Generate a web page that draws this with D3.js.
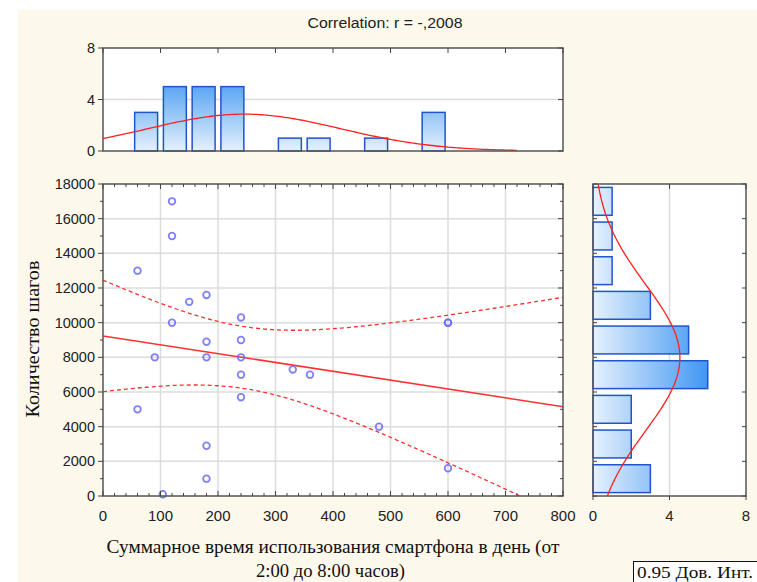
<!DOCTYPE html>
<html>
<head>
  <meta charset="utf-8">
  <script src="https://d3js.org/d3.v7.min.js"></script>
  <style>
    body { margin: 0; background: #fff; }
    text { font-family: "Liberation Sans", Arial, sans-serif; fill: #222; }
    .serif { font-family: "Liberation Serif", "Times New Roman", serif; fill: #111; }
  </style>
</head>
<body>
<script>
  "use strict";

  // scatter: total smartphone time (min) vs steps
  var times = [60, 60, 90, 104, 120, 120, 120, 150, 180, 180, 180, 180, 180,
               240, 240, 240, 240, 240, 330, 360, 480, 600, 600, 600];
  var steps = [13000, 5000, 8000, 100, 17000, 15000, 10000, 11200, 11600, 8900, 8000, 2900, 1000,
               10300, 9000, 8000, 7000, 5700, 7300, 7000, 4000, 10000, 10000, 1600];

  // top histogram (time), bins of 50
  var timeBinStart = [50, 100, 150, 200, 300, 350, 450, 550];
  var timeCounts   = [3, 5, 5, 5, 1, 1, 1, 3];
  // right histogram (steps), bins of 2000
  var stepBinStart = [0, 2000, 4000, 6000, 8000, 10000, 12000, 14000, 16000];
  var stepCounts   = [3, 2, 2, 6, 5, 3, 1, 1, 1];

  var xTicks = [0, 100, 200, 300, 400, 500, 600, 700, 800];
  var yTicks = [0, 2000, 4000, 6000, 8000, 10000, 12000, 14000, 16000, 18000];
  var countTicks = [0, 4, 8];

  var title = "Correlation: r = -,2008";
  var xTitle1 = "Суммарное время использования смартфона в день (от";
  var xTitle2 = "2:00 до 8:00 часов)";
  var yTitle = "Количество шагов";
  var legendText = "0.95 Дов. Инт.";

  var W = 757, H = 582;
  var svg = d3.select("body").append("svg").attr("width", W).attr("height", H);

  svg.append("rect").attr("x", 18).attr("y", 10).attr("width", W - 18).attr("height", H - 10)
    .attr("fill", "#fdf8ec");

  var mainP = {l: 103, r: 563, t: 184, b: 496};
  var topP = {l: 103, r: 563, t: 48, b: 151};
  var sideP = {l: 593, r: 746, t: 184, b: 496};

  var x = d3.scaleLinear().domain([0, 800]).range([mainP.l, mainP.r]);
  var y = d3.scaleLinear().domain([0, 18000]).range([mainP.b, mainP.t]);
  var yTop = d3.scaleLinear().domain([0, 8]).range([topP.b, topP.t]);
  var xSide = d3.scaleLinear().domain([0, 8]).range([sideP.l, sideP.r]);

  var defs = svg.append("defs");
  var gv = defs.append("linearGradient").attr("id", "gv")
    .attr("gradientUnits", "userSpaceOnUse")
    .attr("x1", 0).attr("x2", 0).attr("y1", yTop(0)).attr("y2", yTop(6));
  gv.append("stop").attr("offset", 0).attr("stop-color", "#e6f1fd");
  gv.append("stop").attr("offset", 1).attr("stop-color", "#3f97f2");
  var gh = defs.append("linearGradient").attr("id", "gh")
    .attr("gradientUnits", "userSpaceOnUse")
    .attr("y1", 0).attr("y2", 0).attr("x1", xSide(0)).attr("x2", xSide(6.2));
  gh.append("stop").attr("offset", 0).attr("stop-color", "#e6f1fd");
  gh.append("stop").attr("offset", 1).attr("stop-color", "#3a94f2");
  defs.append("clipPath").attr("id", "clipMain").append("rect")
    .attr("x", mainP.l).attr("y", mainP.t).attr("width", mainP.r - mainP.l).attr("height", mainP.b - mainP.t);

  // plot backgrounds
  [mainP, topP, sideP].forEach(function (p) {
    svg.append("rect").attr("x", p.l).attr("y", p.t).attr("width", p.r - p.l).attr("height", p.b - p.t)
      .attr("fill", "#fff");
  });

  // gridlines
  var grid = svg.append("g").attr("stroke", "#dcdcdc").attr("stroke-width", 1.5);
  xTicks.slice(1, -1).forEach(function (v) {
    grid.append("line").attr("x1", x(v)).attr("x2", x(v)).attr("y1", mainP.t).attr("y2", mainP.b);
  });
  yTicks.slice(1, -1).forEach(function (v) {
    grid.append("line").attr("x1", mainP.l).attr("x2", mainP.r).attr("y1", y(v)).attr("y2", y(v));
  });
  grid.append("line").attr("x1", topP.l).attr("x2", topP.r).attr("y1", yTop(4)).attr("y2", yTop(4));
  grid.append("line").attr("x1", xSide(4)).attr("x2", xSide(4)).attr("y1", sideP.t).attr("y2", sideP.b);

  // top histogram bars
  var bwTop = x(50) - x(0);
  svg.append("g").selectAll("rect").data(timeBinStart).join("rect")
    .attr("x", function (d) { return x(d) + 2.9; })
    .attr("width", bwTop - 5.8)
    .attr("y", function (d, i) { return yTop(timeCounts[i]); })
    .attr("height", function (d, i) { return yTop(0) - yTop(timeCounts[i]); })
    .attr("fill", "url(#gv)").attr("stroke", "#1f55cc").attr("stroke-width", 1.5);

  // side histogram bars
  var bhSide = y(0) - y(2000);
  svg.append("g").selectAll("rect").data(stepBinStart).join("rect")
    .attr("x", xSide(0))
    .attr("y", function (d) { return y(d + 2000) + 3.4; })
    .attr("height", bhSide - 6.8)
    .attr("width", function (d, i) { return xSide(stepCounts[i]) - xSide(0); })
    .attr("fill", "url(#gh)").attr("stroke", "#1f55cc").attr("stroke-width", 1.5);

  // stats
  var n = times.length;
  var mx = d3.mean(times), my = d3.mean(steps);
  var sx = d3.deviation(times), sy = d3.deviation(steps);
  var sxx = d3.sum(times, function (v) { return (v - mx) * (v - mx); });
  var sxy = d3.sum(times, function (v, i) { return (v - mx) * (steps[i] - my); });
  var slope = sxy / sxx, icpt = my - slope * mx;
  var sse = d3.sum(times, function (v, i) { var e = steps[i] - (icpt + slope * v); return e * e; });
  var se = Math.sqrt(sse / (n - 2));
  var tcrit = 2.074;

  function npdf(v, m, s) { return Math.exp(-0.5 * ((v - m) / s) * ((v - m) / s)) / (s * Math.sqrt(2 * Math.PI)); }

  // normal curves
  var topCurve = d3.range(0, 721, 4).map(function (v) { return [x(v), yTop(n * 50 * npdf(v, mx, sx))]; });
  svg.append("path").attr("d", d3.line()(topCurve))
    .attr("fill", "none").attr("stroke", "#ff2020").attr("stroke-width", 1.3);
  var sideCurve = d3.range(0, 18001, 100).map(function (v) { return [xSide(n * 2000 * npdf(v, my, sy)), y(v)]; });
  svg.append("path").attr("d", d3.line()(sideCurve))
    .attr("fill", "none").attr("stroke", "#ff2020").attr("stroke-width", 1.3);

  // regression + confidence band
  var clipG = svg.append("g").attr("clip-path", "url(#clipMain)");
  var xs = d3.range(0, 801, 5);
  function band(sign) {
    return xs.map(function (v) {
      var h = tcrit * se * Math.sqrt(1 / n + (v - mx) * (v - mx) / sxx);
      return [x(v), y(icpt + slope * v + sign * h)];
    });
  }
  clipG.append("path").attr("d", d3.line()(band(1)))
    .attr("fill", "none").attr("stroke", "#ff3030").attr("stroke-width", 1.3).attr("stroke-dasharray", "4,3");
  clipG.append("path").attr("d", d3.line()(band(-1)))
    .attr("fill", "none").attr("stroke", "#ff3030").attr("stroke-width", 1.3).attr("stroke-dasharray", "4,3");
  clipG.append("line").attr("x1", x(0)).attr("x2", x(800))
    .attr("y1", y(icpt)).attr("y2", y(icpt + slope * 800))
    .attr("stroke", "#ff3030").attr("stroke-width", 1.5);

  // points
  svg.append("g").selectAll("circle").data(times).join("circle")
    .attr("cx", function (d) { return x(d); })
    .attr("cy", function (d, i) { return y(steps[i]); })
    .attr("r", 3.3)
    .attr("fill", "none").attr("stroke", "#6a6af8").attr("stroke-width", 1.8).attr("stroke-opacity", 0.85);

  // frames
  [mainP, topP, sideP].forEach(function (p) {
    svg.append("rect").attr("x", p.l).attr("y", p.t).attr("width", p.r - p.l).attr("height", p.b - p.t)
      .attr("fill", "none").attr("stroke", "#555").attr("stroke-width", 1.5);
  });

  // tick marks
  var tk = svg.append("g").attr("stroke", "#444").attr("stroke-width", 1);
  d3.range(0, 801, 20).forEach(function (v) {
    var len = v % 100 === 0 ? 5 : 3;
    tk.append("line").attr("x1", x(v)).attr("x2", x(v)).attr("y1", mainP.t).attr("y2", mainP.t + len);
    tk.append("line").attr("x1", x(v)).attr("x2", x(v)).attr("y1", mainP.b).attr("y2", mainP.b - len);
  });
  d3.range(0, 18001, 1000).forEach(function (v) {
    var len = v % 2000 === 0 ? 5 : 3;
    tk.append("line").attr("x1", mainP.l - len).attr("x2", mainP.l).attr("y1", y(v)).attr("y2", y(v));
    tk.append("line").attr("x1", mainP.r - len).attr("x2", mainP.r).attr("y1", y(v)).attr("y2", y(v));
  });
  xTicks.forEach(function (v) {
    tk.append("line").attr("x1", x(v)).attr("x2", x(v)).attr("y1", topP.t).attr("y2", topP.t + 5);
  });
  countTicks.forEach(function (v) {
    tk.append("line").attr("x1", topP.l - 5).attr("x2", topP.l).attr("y1", yTop(v)).attr("y2", yTop(v));
    tk.append("line").attr("x1", topP.r - 5).attr("x2", topP.r).attr("y1", yTop(v)).attr("y2", yTop(v));
    tk.append("line").attr("x1", xSide(v)).attr("x2", xSide(v)).attr("y1", sideP.t).attr("y2", sideP.t + 5);
    tk.append("line").attr("x1", xSide(v)).attr("x2", xSide(v)).attr("y1", sideP.b + 4).attr("y2", sideP.b);
  });
  yTicks.forEach(function (v) {
    tk.append("line").attr("x1", sideP.l).attr("x2", sideP.l + 4).attr("y1", y(v)).attr("y2", y(v));
    tk.append("line").attr("x1", sideP.r - 4).attr("x2", sideP.r).attr("y1", y(v)).attr("y2", y(v));
  });

  // tick labels
  svg.append("g").selectAll("text").data(yTicks).join("text")
    .attr("x", mainP.l - 8).attr("y", function (d) { return y(d) + 5; })
    .attr("text-anchor", "end").attr("font-size", 14.5).text(function (d) { return d; });
  svg.append("g").selectAll("text").data(countTicks).join("text")
    .attr("x", topP.l - 8).attr("y", function (d) { return yTop(d) + 5; })
    .attr("text-anchor", "end").attr("font-size", 14.5).text(function (d) { return d; });
  svg.append("g").selectAll("text").data(xTicks).join("text")
    .attr("x", function (d) { return x(d); }).attr("y", mainP.b + 25)
    .attr("text-anchor", "middle").attr("font-size", 15).text(function (d) { return d; });
  svg.append("g").selectAll("text").data(countTicks).join("text")
    .attr("x", function (d) { return xSide(d); }).attr("y", sideP.b + 25)
    .attr("text-anchor", "middle").attr("font-size", 15).text(function (d) { return d; });

  // titles
  svg.append("text").attr("x", 385).attr("y", 28).attr("text-anchor", "middle")
    .attr("font-size", 14).attr("textLength", 155).attr("lengthAdjust", "spacingAndGlyphs").text(title);
  svg.append("text").attr("class", "serif").attr("x", 333).attr("y", 553)
    .attr("text-anchor", "middle").attr("font-size", 18.5)
    .attr("textLength", 453).attr("lengthAdjust", "spacingAndGlyphs").text(xTitle1);
  svg.append("text").attr("class", "serif").attr("x", 330.5).attr("y", 577)
    .attr("text-anchor", "middle").attr("font-size", 18.5)
    .attr("textLength", 149).attr("lengthAdjust", "spacingAndGlyphs").text(xTitle2);
  svg.append("text").attr("class", "serif")
    .attr("transform", "translate(39,339) rotate(-90)")
    .attr("text-anchor", "middle").attr("font-size", 18.5)
    .attr("textLength", 157).attr("lengthAdjust", "spacingAndGlyphs").text(yTitle);

  // legend box
  svg.append("rect").attr("x", 633.5).attr("y", 561.5).attr("width", 130).attr("height", 30)
    .attr("fill", "#fff").attr("stroke", "#111").attr("stroke-width", 1);
  svg.append("text").attr("class", "serif").attr("x", 637).attr("y", 577.5)
    .attr("font-size", 17).attr("textLength", 116).attr("lengthAdjust", "spacingAndGlyphs").text(legendText);
</script>
</body>
</html>
